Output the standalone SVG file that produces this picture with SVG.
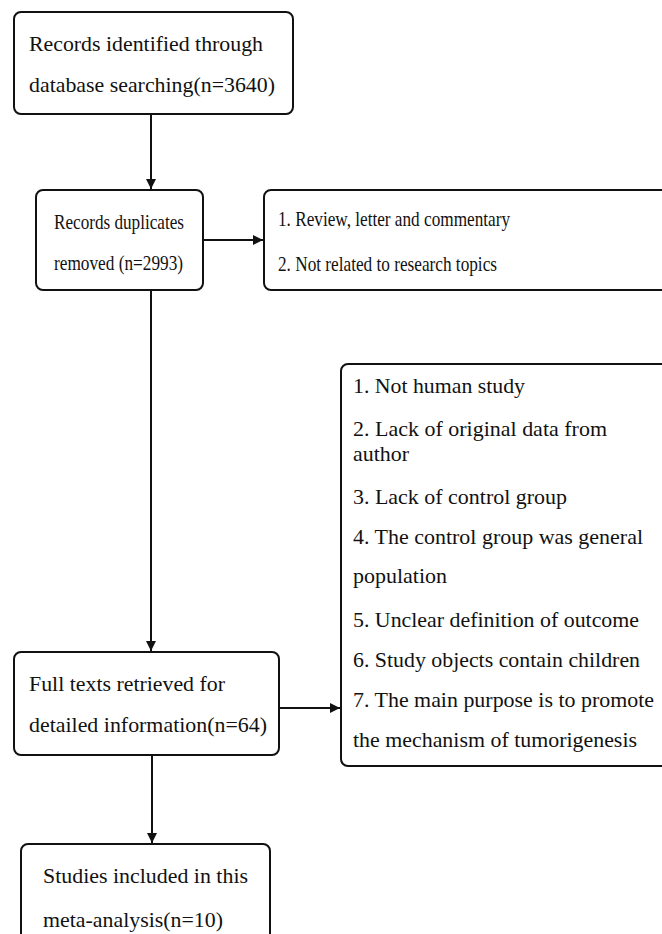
<svg xmlns="http://www.w3.org/2000/svg" width="662" height="934" viewBox="0 0 662 934">
<style>
.box{fill:#fff;stroke:#111;stroke-width:2}
.c{stroke:#111;stroke-width:2;fill:none}
</style>
<defs>
<marker id="ah" markerUnits="userSpaceOnUse" markerWidth="11" markerHeight="11" refX="10" refY="5" orient="auto">
<path d="M0,0 L10,5 L0,10 z" fill="#111"/>
</marker>
</defs>
<rect width="662" height="934" fill="#fff"/>
<g id="connectors">
<line class="c" x1="151" y1="114" x2="151" y2="189" marker-end="url(#ah)"/>
<line class="c" x1="203" y1="240" x2="263" y2="240" marker-end="url(#ah)"/>
<line class="c" x1="151" y1="290" x2="151" y2="651" marker-end="url(#ah)"/>
<line class="c" x1="279" y1="708" x2="340" y2="708" marker-end="url(#ah)"/>
<line class="c" x1="152" y1="755" x2="152" y2="843" marker-end="url(#ah)"/>
</g>
<g font-family="Liberation Serif, DejaVu Serif, serif" font-size="22" fill="#111" lengthAdjust="spacingAndGlyphs">
<g id="n1">
<rect class="box" x="14" y="12" width="279" height="102" rx="7"/>
<text x="29" y="51" textLength="234" lengthAdjust="spacingAndGlyphs">Records identified through</text>
<text x="29" y="92" textLength="246" lengthAdjust="spacingAndGlyphs">database searching(n=3640)</text>
</g>
<g id="n2">
<rect class="box" x="36" y="190" width="167" height="100" rx="7"/>
<text x="54" y="229" textLength="130" lengthAdjust="spacingAndGlyphs">Records duplicates</text>
<text x="54" y="270" textLength="129" lengthAdjust="spacingAndGlyphs">removed (n=2993)</text>
</g>
<g id="n3">
<rect class="box" x="264" y="190" width="420" height="100" rx="7"/>
<text x="278" y="226" textLength="232" lengthAdjust="spacingAndGlyphs">1. Review, letter and commentary</text>
<text x="278" y="271" textLength="219" lengthAdjust="spacingAndGlyphs">2. Not related to research topics</text>
</g>
<g id="n4">
<rect class="box" x="341" y="364" width="340" height="402" rx="7"/>
<text x="353" y="393" textLength="172" lengthAdjust="spacingAndGlyphs">1. Not human study</text>
<text x="353" y="436" textLength="254" lengthAdjust="spacingAndGlyphs">2. Lack of original data from</text>
<text x="353" y="461" textLength="56" lengthAdjust="spacingAndGlyphs">author</text>
<text x="353" y="504" textLength="214" lengthAdjust="spacingAndGlyphs">3. Lack of control group</text>
<text x="353" y="544" textLength="290" lengthAdjust="spacingAndGlyphs">4. The control group was general</text>
<text x="353" y="583" textLength="94" lengthAdjust="spacingAndGlyphs">population</text>
<text x="353" y="627" textLength="286" lengthAdjust="spacingAndGlyphs">5. Unclear definition of outcome</text>
<text x="353" y="667" textLength="287" lengthAdjust="spacingAndGlyphs">6. Study objects contain children</text>
<text x="353" y="707" textLength="301" lengthAdjust="spacingAndGlyphs">7. The main purpose is to promote</text>
<text x="353" y="747" textLength="284" lengthAdjust="spacingAndGlyphs">the mechanism of tumorigenesis</text>
</g>
<g id="n5">
<rect class="box" x="14" y="652" width="265" height="103" rx="7"/>
<text x="29" y="691" textLength="196" lengthAdjust="spacingAndGlyphs">Full texts retrieved for</text>
<text x="29" y="732" textLength="238" lengthAdjust="spacingAndGlyphs">detailed information(n=64)</text>
</g>
<g id="n6">
<rect class="box" x="21" y="844" width="249" height="120" rx="7"/>
<text x="43" y="883" textLength="205" lengthAdjust="spacingAndGlyphs">Studies included in this</text>
<text x="43" y="927" textLength="180" lengthAdjust="spacingAndGlyphs">meta-analysis(n=10)</text>
</g>
</g>
</svg>
